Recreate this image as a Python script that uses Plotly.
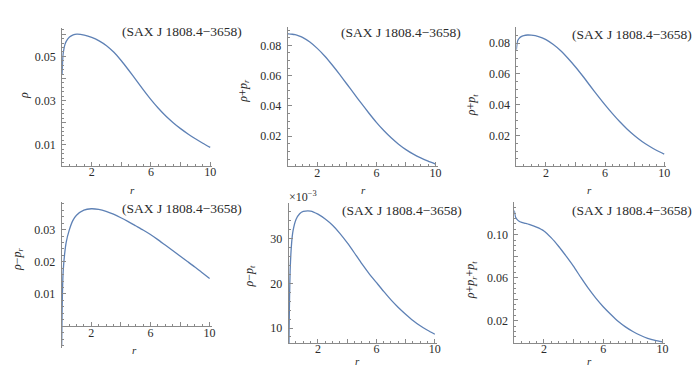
import plotly.graph_objects as go

W, H = 700, 366

r = [0, 0.03, 0.06, 0.1, 0.2, 0.3, 0.5, 0.75, 1, 1.5, 2, 2.5, 3, 3.5, 4, 4.5, 5,
     5.5, 6, 6.5, 7, 7.5, 8, 8.5, 9, 9.5, 10]

rho = [0.042, 0.047, 0.0505, 0.0525, 0.0555, 0.0570, 0.0587, 0.0597, 0.0600, 0.0596,
       0.0586, 0.0570, 0.0548, 0.0518, 0.0480, 0.0437, 0.0392, 0.0347, 0.0304, 0.0265,
       0.0230, 0.0200, 0.0173, 0.0149, 0.0127, 0.0107, 0.0088]

rho_plus_pr = [0.0875, 0.0875, 0.0875, 0.0875, 0.0874, 0.0873, 0.0870, 0.0863, 0.0853,
               0.0822, 0.0780, 0.0730, 0.0672, 0.0610, 0.0545, 0.0480, 0.0415, 0.0352,
               0.0292, 0.0238, 0.0190, 0.0148, 0.0112, 0.0082, 0.0057, 0.0036, 0.0017]

rho_plus_pt = [0.0757, 0.0785, 0.0805, 0.0818, 0.0832, 0.0840, 0.0848, 0.0852, 0.0851,
               0.0842, 0.0822, 0.0790, 0.0750, 0.0700, 0.0645, 0.0585, 0.0522, 0.0460,
               0.0400, 0.0343, 0.0290, 0.0242, 0.0200, 0.0163, 0.0132, 0.0104, 0.0081]

rho_minus_pr = [-0.006, 0.005, 0.012, 0.017, 0.0225, 0.0260, 0.0297, 0.0328, 0.0345,
                0.0361, 0.0365, 0.0363, 0.0357, 0.0348, 0.0337, 0.0325, 0.0312, 0.0299,
                0.0285, 0.0269, 0.0252, 0.0235, 0.0218, 0.0201, 0.0184, 0.0166, 0.0148]

rho_minus_pt_e3 = [0.0, 10.0, 17.0, 23.0, 29.0, 31.8, 34.3, 35.6, 36.1, 36.2, 35.5, 34.4,
                   33.0, 31.2, 29.1, 26.8, 24.4, 22.2, 20.2, 18.2, 16.3, 14.6, 13.1,
                   11.7, 10.5, 9.5, 8.6]

rho_plus_pr_pt = [0.1225, 0.1200, 0.1178, 0.1160, 0.1140, 0.1128, 0.1115, 0.1105, 0.1095,
                  0.1070, 0.1035, 0.0970, 0.0890, 0.0800, 0.0705, 0.0600, 0.0500, 0.0410,
                  0.0330, 0.0260, 0.0195, 0.0143, 0.0100, 0.0065, 0.0037, 0.0017, 0.0003]

x_tickvals = [2, 4, 6, 8, 10]
x_ticktext = ["2", "", "6", "", "10"]

source_label = "(SAX J 1808.4\u22123658)"

LINE = "#5E81B5"
AXC = "#8a8a8a"
TXT = "#2b2b2b"
SERIF = "Liberation Serif"

def fx(px):
    return px / W

def fy(py):
    return 1 - py / H

panels = [
    dict(y=rho, xd=(54.4, 205.6), yd=(20, 158), yr=(0.0004, 0.0628),
         tv=[0.01, 0.02, 0.03, 0.04, 0.05, 0.06], tt=["0.01", "", "0.03", "", "0.05", ""], mn=0.002,
         yt="<i>ρ</i>", ytp=(16, 87), xtp=(125, 182), src=(237, 24), xpos=None),
    dict(y=rho_plus_pr, xd=(281.3, 432.2), yd=(19.3, 158.3), yr=(0.0002, 0.0919),
         tv=[0.02, 0.04, 0.06, 0.08], tt=["0.02", "0.04", "0.06", "0.08"], mn=0.005,
         yt="<i>ρ</i>+<i>p</i><sub><i>r</i></sub>", ytp=(237, 83), xtp=(358, 182), src=(458, 25), xpos=None),
    dict(y=rho_plus_pt, xd=(511.3, 662.2), yd=(19.3, 158.3), yr=(0.0002, 0.0902),
         tv=[0.02, 0.04, 0.06, 0.08], tt=["0.02", "0.04", "0.06", "0.08"], mn=0.005,
         yt="<i>ρ</i>+<i>p</i><sub><i>t</i></sub>", ytp=(467, 97), xtp=(585, 182), src=(690, 27), xpos=None),
    dict(y=rho_minus_pr, xd=(54, 205), yd=(194, 340), yr=(-0.0068, 0.0386),
         tv=[0.01, 0.02, 0.03], tt=["0.01", "0.02", "0.03"], mn=0.002,
         yt="<i>ρ</i>\u2212<i>p</i><sub><i>r</i></sub>", ytp=(10, 251), xtp=(127, 342), src=(237, 200), xpos=318.2),
    dict(y=rho_minus_pt_e3, xd=(282.3, 431.5), yd=(195, 335), yr=(6.64, 38.0),
         tv=[10, 20, 30], tt=["10", "20", "30"], mn=2,
         yt="<i>ρ</i>\u2212<i>p</i><sub><i>t</i></sub>", ytp=(243, 268), xtp=(352, 353), src=(459, 203), xpos=None),
    dict(y=rho_plus_pr_pt, xd=(509.2, 660.5), yd=(194, 335), yr=(-0.0007, 0.1304),
         tv=[0.02, 0.04, 0.06, 0.08, 0.10], tt=["0.02", "", "0.06", "", "0.10"], mn=0.005,
         yt="<i>ρ</i>+<i>p</i><sub><i>r</i></sub>+<i>p</i><sub><i>t</i></sub>", ytp=(466, 272), xtp=(585, 353), src=(690, 203), xpos=None),
]

fig = go.Figure()
annotations = []
layout = {}
for i, p in enumerate(panels, start=1):
    xa = "x" if i == 1 else f"x{i}"
    ya = "y" if i == 1 else f"y{i}"
    fig.add_trace(go.Scatter(x=r, y=p["y"], mode="lines", xaxis=xa, yaxis=ya,
                             line=dict(color=LINE, width=1.3, shape="spline", smoothing=0.6),
                             showlegend=False, hoverinfo="skip"))
    xkey = "xaxis" if i == 1 else f"xaxis{i}"
    ykey = "yaxis" if i == 1 else f"yaxis{i}"
    xdict = dict(domain=[fx(p["xd"][0]), fx(p["xd"][1])], range=[0, 10.15],
                 showgrid=False, zeroline=False, showline=True, linecolor=AXC, linewidth=1,
                 ticks="inside", ticklen=4, tickcolor=AXC, tickwidth=1,
                 tickvals=x_tickvals, ticktext=x_ticktext,
                 tickfont=dict(family=SERIF, size=12, color=TXT),
                 minor=dict(ticks="inside", ticklen=2, tickcolor=AXC, dtick=0.5, tick0=0, showgrid=False),
                 ticklabelstandoff=-5, fixedrange=True)
    if p["xpos"] is not None:
        xdict.update(anchor="free", position=fy(p["xpos"]))
    else:
        xdict.update(anchor=ya)
    ydict = dict(domain=[fy(p["yd"][1]), fy(p["yd"][0])], range=list(p["yr"]),
                 anchor=xa, showgrid=False, zeroline=False, showline=True, linecolor=AXC,
                 linewidth=1, ticks="inside", ticklen=4, tickcolor=AXC, tickwidth=1,
                 tickvals=p["tv"], ticktext=p["tt"],
                 tickfont=dict(family=SERIF, size=12, color=TXT),
                 minor=dict(ticks="inside", ticklen=2, tickcolor=AXC, dtick=p["mn"], tick0=0, showgrid=False),
                 ticklabelstandoff=3, fixedrange=True)
    layout[xkey] = xdict
    layout[ykey] = ydict
    annotations.append(dict(text=p["yt"], x=fx(p["ytp"][0]), y=fy(p["ytp"][1]), xref="paper", yref="paper",
                            textangle=-90, showarrow=False, xanchor="center", yanchor="middle",
                            font=dict(family=SERIF, size=12, color=TXT)))
    annotations.append(dict(text="<i>r</i>", x=fx(p["xtp"][0]), y=fy(p["xtp"][1]), xref="paper", yref="paper",
                            showarrow=False, xanchor="center", yanchor="middle", borderpad=0,
                            font=dict(family=SERIF, size=11, color=TXT)))
    annotations.append(dict(text=source_label, x=fx(p["src"][0]), y=fy(p["src"][1]), xref="paper", yref="paper",
                            showarrow=False, xanchor="right", yanchor="middle",
                            font=dict(family=SERIF, size=13.5, color=TXT)))

annotations.append(dict(text="\u00d710<sup>\u22123</sup>", x=fx(281), y=fy(188), xref="paper", yref="paper",
                        showarrow=False, xanchor="left", yanchor="middle",
                        font=dict(family=SERIF, size=12, color=TXT)))

fig.update_layout(width=W, height=H, margin=dict(l=0, r=0, t=0, b=0),
                  paper_bgcolor="white", plot_bgcolor="white",
                  font=dict(family=SERIF),
                  annotations=annotations, **layout)

fig.write_html("out.html")
